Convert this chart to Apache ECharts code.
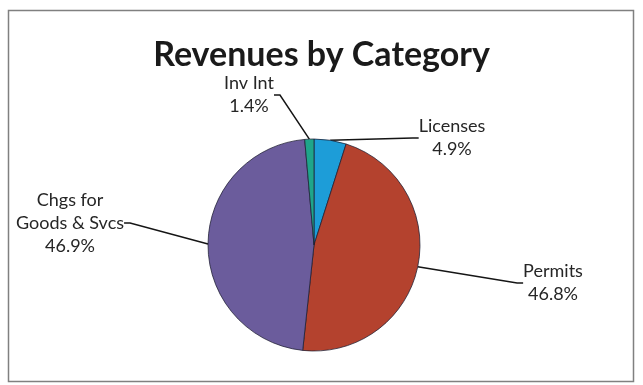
<!DOCTYPE html>
<html>
<head>
<meta charset="utf-8">
<script src="https://cdn.jsdelivr.net/npm/echarts@6/dist/echarts.min.js"></script>
<style>
html,body{margin:0;padding:0;background:#fff;}
#chart{width:643px;height:385px;}
</style>
</head>
<body>
<div id="chart"></div>
<script>
const categories = ['Licenses', 'Permits', 'Chgs for\nGoods & Svcs', 'Inv Int'];
const values = [4.9, 46.8, 46.9, 1.4];
const colors = ['#1d9dd8', '#b4422e', '#6b5c9c', '#1fa58a'];
const labelPos = [[452, 138], [553, 283], [70, 223], [249, 95]];

const chart = echarts.init(document.getElementById('chart'));
chart.setOption({
  backgroundColor: '#ffffff',
  animation: false,
  title: {
    text: 'Revenues by Category',
    left: 'center',
    top: 33,
    textStyle: { fontFamily: 'Lato', fontWeight: 'bold', fontSize: 34, color: '#1a1a1a' }
  },
  graphic: [{
    type: 'rect',
    shape: { x: 8.5, y: 10.5, width: 625, height: 371 },
    style: { fill: 'none', stroke: '#808080', lineWidth: 1.5 },
    silent: true
  }],
  series: [{
    type: 'pie',
    center: [314, 245],
    radius: 106,
    startAngle: 90,
    clockwise: true,
    avoidLabelOverlap: false,
    data: categories.map((c, i) => ({ name: c, value: values[i], itemStyle: { color: colors[i] } })),
    itemStyle: { borderColor: 'rgba(30,30,50,0.75)', borderWidth: 1 },
    label: {
      show: true,
      position: 'outside',
      formatter: '{b}\n{c}%',
      fontFamily: 'Lato',
      fontSize: 18,
      lineHeight: 23,
      color: '#262626',
      align: 'center'
    },
    labelLine: {
      show: true,
      length: 10,
      length2: 6,
      lineStyle: { color: '#151515', width: 1.5 }
    },
    labelLayout: function (params) {
      const p = labelPos[params.dataIndex];
      return { x: p[0], y: p[1], align: 'center', verticalAlign: 'middle' };
    },
    emphasis: { disabled: true }
  }]
});
</script>
</body>
</html>
